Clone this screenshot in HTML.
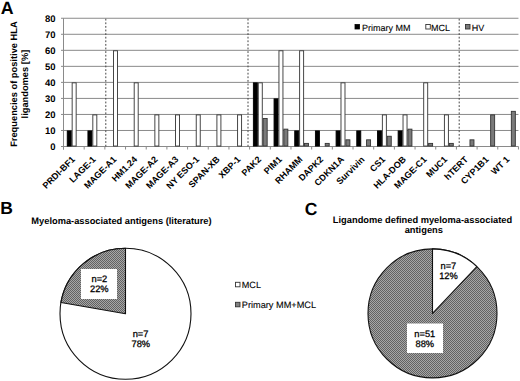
<!DOCTYPE html><html><head><meta charset="utf-8"><style>html,body{margin:0;padding:0;background:#fff;}svg{display:block;}text{font-family:"Liberation Sans",sans-serif;text-rendering:geometricPrecision;}text.r{stroke:#000;stroke-width:0.28px;}text.l{stroke:#000;stroke-width:0.1px;}</style></head><body>
<svg width="520" height="381" viewBox="0 0 520 381">
<defs><pattern id="h" width="2" height="2" patternUnits="userSpaceOnUse"><rect width="2" height="2" fill="#a6a6a6"/><rect width="1" height="1" fill="#626262"/><rect x="1" y="1" width="1" height="1" fill="#626262"/></pattern></defs>
<rect width="520" height="381" fill="#fff"/>
<text x="0.8" y="13.6" font-size="17.8" font-weight="bold">A</text>
<line x1="61.00" y1="146.50" x2="518.46" y2="146.50" stroke="#8a8a8a" stroke-width="1"/>
<line x1="61.00" y1="130.47" x2="518.46" y2="130.47" stroke="#8a8a8a" stroke-width="1"/>
<line x1="61.00" y1="114.44" x2="518.46" y2="114.44" stroke="#8a8a8a" stroke-width="1"/>
<line x1="61.00" y1="98.41" x2="518.46" y2="98.41" stroke="#8a8a8a" stroke-width="1"/>
<line x1="61.00" y1="82.38" x2="518.46" y2="82.38" stroke="#8a8a8a" stroke-width="1"/>
<line x1="61.00" y1="66.35" x2="518.46" y2="66.35" stroke="#8a8a8a" stroke-width="1"/>
<line x1="61.00" y1="50.32" x2="518.46" y2="50.32" stroke="#8a8a8a" stroke-width="1"/>
<line x1="61.00" y1="34.29" x2="518.46" y2="34.29" stroke="#8a8a8a" stroke-width="1"/>
<line x1="61.00" y1="18.26" x2="518.46" y2="18.26" stroke="#8a8a8a" stroke-width="1"/>
<line x1="63.50" y1="18.26" x2="63.50" y2="149.50" stroke="#8a8a8a" stroke-width="1"/>
<line x1="63.50" y1="146.50" x2="63.50" y2="149.50" stroke="#8a8a8a" stroke-width="1"/>
<line x1="84.18" y1="146.50" x2="84.18" y2="149.50" stroke="#8a8a8a" stroke-width="1"/>
<line x1="104.86" y1="146.50" x2="104.86" y2="149.50" stroke="#8a8a8a" stroke-width="1"/>
<line x1="125.54" y1="146.50" x2="125.54" y2="149.50" stroke="#8a8a8a" stroke-width="1"/>
<line x1="146.22" y1="146.50" x2="146.22" y2="149.50" stroke="#8a8a8a" stroke-width="1"/>
<line x1="166.90" y1="146.50" x2="166.90" y2="149.50" stroke="#8a8a8a" stroke-width="1"/>
<line x1="187.58" y1="146.50" x2="187.58" y2="149.50" stroke="#8a8a8a" stroke-width="1"/>
<line x1="208.26" y1="146.50" x2="208.26" y2="149.50" stroke="#8a8a8a" stroke-width="1"/>
<line x1="228.94" y1="146.50" x2="228.94" y2="149.50" stroke="#8a8a8a" stroke-width="1"/>
<line x1="249.62" y1="146.50" x2="249.62" y2="149.50" stroke="#8a8a8a" stroke-width="1"/>
<line x1="270.30" y1="146.50" x2="270.30" y2="149.50" stroke="#8a8a8a" stroke-width="1"/>
<line x1="290.98" y1="146.50" x2="290.98" y2="149.50" stroke="#8a8a8a" stroke-width="1"/>
<line x1="311.66" y1="146.50" x2="311.66" y2="149.50" stroke="#8a8a8a" stroke-width="1"/>
<line x1="332.34" y1="146.50" x2="332.34" y2="149.50" stroke="#8a8a8a" stroke-width="1"/>
<line x1="353.02" y1="146.50" x2="353.02" y2="149.50" stroke="#8a8a8a" stroke-width="1"/>
<line x1="373.70" y1="146.50" x2="373.70" y2="149.50" stroke="#8a8a8a" stroke-width="1"/>
<line x1="394.38" y1="146.50" x2="394.38" y2="149.50" stroke="#8a8a8a" stroke-width="1"/>
<line x1="415.06" y1="146.50" x2="415.06" y2="149.50" stroke="#8a8a8a" stroke-width="1"/>
<line x1="435.74" y1="146.50" x2="435.74" y2="149.50" stroke="#8a8a8a" stroke-width="1"/>
<line x1="456.42" y1="146.50" x2="456.42" y2="149.50" stroke="#8a8a8a" stroke-width="1"/>
<line x1="477.10" y1="146.50" x2="477.10" y2="149.50" stroke="#8a8a8a" stroke-width="1"/>
<line x1="497.78" y1="146.50" x2="497.78" y2="149.50" stroke="#8a8a8a" stroke-width="1"/>
<line x1="518.46" y1="146.50" x2="518.46" y2="149.50" stroke="#8a8a8a" stroke-width="1"/>
<text x="55.50" y="150.00" font-size="9.5" font-weight="bold" text-anchor="end">0</text>
<text x="55.50" y="133.97" font-size="9.5" font-weight="bold" text-anchor="end">10</text>
<text x="55.50" y="117.94" font-size="9.5" font-weight="bold" text-anchor="end">20</text>
<text x="55.50" y="101.91" font-size="9.5" font-weight="bold" text-anchor="end">30</text>
<text x="55.50" y="85.88" font-size="9.5" font-weight="bold" text-anchor="end">40</text>
<text x="55.50" y="69.85" font-size="9.5" font-weight="bold" text-anchor="end">50</text>
<text x="55.50" y="53.82" font-size="9.5" font-weight="bold" text-anchor="end">60</text>
<text x="55.50" y="37.79" font-size="9.5" font-weight="bold" text-anchor="end">70</text>
<text x="55.50" y="21.76" font-size="9.5" font-weight="bold" text-anchor="end">80</text>
<text transform="translate(17.1,84.1) rotate(-90)" font-size="9.3" font-weight="bold" text-anchor="middle">Frequencies of positive HLA</text>
<text transform="translate(27.8,84.1) rotate(-90)" font-size="9.3" font-weight="bold" text-anchor="middle">ligandomes [%]</text>
<line x1="105.80" y1="18.26" x2="105.80" y2="146.50" stroke="#444" stroke-width="1" stroke-dasharray="1.8,1.8" stroke-dashoffset="-0.5"/>
<line x1="248.00" y1="18.26" x2="248.00" y2="146.50" stroke="#444" stroke-width="1" stroke-dasharray="1.8,1.8" stroke-dashoffset="-0.5"/>
<line x1="459.20" y1="18.26" x2="459.20" y2="146.50" stroke="#444" stroke-width="1" stroke-dasharray="1.8,1.8" stroke-dashoffset="-0.5"/>
<rect x="67.25" y="130.92" width="4.00" height="15.13" fill="#000" stroke="#000" stroke-width="0.9"/>
<rect x="72.15" y="82.83" width="4.00" height="63.22" fill="#fff" stroke="#333" stroke-width="0.9"/>
<rect x="87.93" y="130.92" width="4.00" height="15.13" fill="#000" stroke="#000" stroke-width="0.9"/>
<rect x="92.83" y="114.89" width="4.00" height="31.16" fill="#fff" stroke="#333" stroke-width="0.9"/>
<rect x="113.51" y="50.77" width="4.00" height="95.28" fill="#fff" stroke="#333" stroke-width="0.9"/>
<rect x="134.19" y="82.83" width="4.00" height="63.22" fill="#fff" stroke="#333" stroke-width="0.9"/>
<rect x="154.87" y="114.89" width="4.00" height="31.16" fill="#fff" stroke="#333" stroke-width="0.9"/>
<rect x="175.55" y="114.89" width="4.00" height="31.16" fill="#fff" stroke="#333" stroke-width="0.9"/>
<rect x="196.23" y="114.89" width="4.00" height="31.16" fill="#fff" stroke="#333" stroke-width="0.9"/>
<rect x="216.91" y="114.89" width="4.00" height="31.16" fill="#fff" stroke="#333" stroke-width="0.9"/>
<rect x="237.59" y="114.89" width="4.00" height="31.16" fill="#fff" stroke="#333" stroke-width="0.9"/>
<rect x="253.37" y="82.83" width="4.00" height="63.22" fill="#000" stroke="#000" stroke-width="0.9"/>
<rect x="258.27" y="82.83" width="4.00" height="63.22" fill="#fff" stroke="#333" stroke-width="0.9"/>
<rect x="263.17" y="118.45" width="4.00" height="27.60" fill="#7a7a7a" stroke="#333" stroke-width="0.9"/>
<rect x="274.05" y="98.86" width="4.00" height="47.19" fill="#000" stroke="#000" stroke-width="0.9"/>
<rect x="278.95" y="50.77" width="4.00" height="95.28" fill="#fff" stroke="#333" stroke-width="0.9"/>
<rect x="283.85" y="129.14" width="4.00" height="16.91" fill="#7a7a7a" stroke="#333" stroke-width="0.9"/>
<rect x="294.73" y="130.92" width="4.00" height="15.13" fill="#000" stroke="#000" stroke-width="0.9"/>
<rect x="299.63" y="50.77" width="4.00" height="95.28" fill="#fff" stroke="#333" stroke-width="0.9"/>
<rect x="304.53" y="143.39" width="4.00" height="2.66" fill="#7a7a7a" stroke="#333" stroke-width="0.9"/>
<rect x="315.41" y="130.92" width="4.00" height="15.13" fill="#000" stroke="#000" stroke-width="0.9"/>
<rect x="325.21" y="143.39" width="4.00" height="2.66" fill="#7a7a7a" stroke="#333" stroke-width="0.9"/>
<rect x="336.09" y="130.92" width="4.00" height="15.13" fill="#000" stroke="#000" stroke-width="0.9"/>
<rect x="340.99" y="82.83" width="4.00" height="63.22" fill="#fff" stroke="#333" stroke-width="0.9"/>
<rect x="345.89" y="139.83" width="4.00" height="6.22" fill="#7a7a7a" stroke="#333" stroke-width="0.9"/>
<rect x="356.77" y="130.92" width="4.00" height="15.13" fill="#000" stroke="#000" stroke-width="0.9"/>
<rect x="366.57" y="139.83" width="4.00" height="6.22" fill="#7a7a7a" stroke="#333" stroke-width="0.9"/>
<rect x="377.45" y="130.92" width="4.00" height="15.13" fill="#000" stroke="#000" stroke-width="0.9"/>
<rect x="382.35" y="114.89" width="4.00" height="31.16" fill="#fff" stroke="#333" stroke-width="0.9"/>
<rect x="387.25" y="136.26" width="4.00" height="9.79" fill="#7a7a7a" stroke="#333" stroke-width="0.9"/>
<rect x="398.13" y="130.92" width="4.00" height="15.13" fill="#000" stroke="#000" stroke-width="0.9"/>
<rect x="403.03" y="114.89" width="4.00" height="31.16" fill="#fff" stroke="#333" stroke-width="0.9"/>
<rect x="407.93" y="129.14" width="4.00" height="16.91" fill="#7a7a7a" stroke="#333" stroke-width="0.9"/>
<rect x="423.71" y="82.83" width="4.00" height="63.22" fill="#fff" stroke="#333" stroke-width="0.9"/>
<rect x="428.61" y="143.39" width="4.00" height="2.66" fill="#7a7a7a" stroke="#333" stroke-width="0.9"/>
<rect x="444.39" y="114.89" width="4.00" height="31.16" fill="#fff" stroke="#333" stroke-width="0.9"/>
<rect x="449.29" y="143.39" width="4.00" height="2.66" fill="#7a7a7a" stroke="#333" stroke-width="0.9"/>
<rect x="469.97" y="139.83" width="4.00" height="6.22" fill="#7a7a7a" stroke="#333" stroke-width="0.9"/>
<rect x="490.65" y="114.89" width="4.00" height="31.16" fill="#7a7a7a" stroke="#333" stroke-width="0.9"/>
<rect x="511.33" y="111.33" width="4.00" height="34.72" fill="#7a7a7a" stroke="#333" stroke-width="0.9"/>
<text transform="translate(75.64,160.00) rotate(-45)" font-size="9.00" font-weight="bold" text-anchor="end">PRDI-BF1</text>
<text transform="translate(96.32,160.00) rotate(-45)" font-size="9.00" font-weight="bold" text-anchor="end">LAGE-1</text>
<text transform="translate(117.00,160.00) rotate(-45)" font-size="9.00" font-weight="bold" text-anchor="end">MAGE-A1</text>
<text transform="translate(137.68,160.00) rotate(-45)" font-size="9.00" font-weight="bold" text-anchor="end">HM1.24</text>
<text transform="translate(158.36,160.00) rotate(-45)" font-size="9.00" font-weight="bold" text-anchor="end">MAGE-A2</text>
<text transform="translate(179.04,160.00) rotate(-45)" font-size="9.00" font-weight="bold" text-anchor="end">MAGE-A3</text>
<text transform="translate(199.72,160.00) rotate(-45)" font-size="9.00" font-weight="bold" text-anchor="end">NY ESO-1</text>
<text transform="translate(220.40,160.00) rotate(-45)" font-size="9.00" font-weight="bold" text-anchor="end">SPAN-XB</text>
<text transform="translate(241.08,160.00) rotate(-45)" font-size="9.00" font-weight="bold" text-anchor="end">XBP-1</text>
<text transform="translate(261.76,160.00) rotate(-45)" font-size="9.00" font-weight="bold" text-anchor="end">PAK2</text>
<text transform="translate(282.44,160.00) rotate(-45)" font-size="9.00" font-weight="bold" text-anchor="end">PIM1</text>
<text transform="translate(303.12,160.00) rotate(-45)" font-size="9.00" font-weight="bold" text-anchor="end">RHAMM</text>
<text transform="translate(323.80,160.00) rotate(-45)" font-size="9.00" font-weight="bold" text-anchor="end">DAPK2</text>
<text transform="translate(344.48,160.00) rotate(-45)" font-size="9.00" font-weight="bold" text-anchor="end">CDKN1A</text>
<text transform="translate(365.16,160.00) rotate(-45)" font-size="9.00" font-weight="bold" text-anchor="end">Survivin</text>
<text transform="translate(385.84,160.00) rotate(-45)" font-size="9.00" font-weight="bold" text-anchor="end">CS1</text>
<text transform="translate(406.52,160.00) rotate(-45)" font-size="9.00" font-weight="bold" text-anchor="end">HLA-DOB</text>
<text transform="translate(427.20,160.00) rotate(-45)" font-size="9.00" font-weight="bold" text-anchor="end">MAGE-C1</text>
<text transform="translate(447.88,160.00) rotate(-45)" font-size="9.00" font-weight="bold" text-anchor="end">MUC1</text>
<text transform="translate(468.56,160.00) rotate(-45)" font-size="9.00" font-weight="bold" text-anchor="end">hTERT</text>
<text transform="translate(489.24,160.00) rotate(-45)" font-size="9.00" font-weight="bold" text-anchor="end">CYP1B1</text>
<text transform="translate(509.92,160.00) rotate(-45)" font-size="9.00" font-weight="bold" text-anchor="end">WT 1</text>
<rect x="355" y="24.5" width="4.5" height="4.5" fill="#000" stroke="#000" stroke-width="0.8"/>
<text class="l" x="362" y="31" font-size="9">Primary MM</text>
<rect x="425.8" y="24.5" width="4.5" height="4.5" fill="#fff" stroke="#333" stroke-width="0.9"/>
<text class="l" x="431" y="31" font-size="9">MCL</text>
<rect x="465.5" y="24.5" width="4.5" height="4.5" fill="#7a7a7a" stroke="#333" stroke-width="0.9"/>
<text class="l" x="471.8" y="31" font-size="9">HV</text>
<text x="0.3" y="214.3" font-size="17.5" font-weight="bold">B</text>
<text x="31.3" y="223.8" font-size="9.3" font-weight="bold">Myeloma-associated antigens (literature)</text>
<circle cx="125.50" cy="313.80" r="65.50" fill="#fff" stroke="#111" stroke-width="1.1"/>
<path d="M125.50,313.80 L125.50,248.30 A65.50,65.50 0 0,0 61.00,302.43 Z" fill="url(#h)" stroke="#111" stroke-width="1.1" stroke-linejoin="round"/>
<rect x="81" y="269" width="36" height="30" fill="#fff"/>
<text class="r" x="99.4" y="282.2" font-size="9.3" text-anchor="middle">n=2</text>
<text class="r" x="99.3" y="292.2" font-size="9.3" text-anchor="middle">22%</text>
<text class="r" x="140.6" y="336.9" font-size="9.3" text-anchor="middle">n=7</text>
<text class="r" x="140.8" y="347.1" font-size="9.3" text-anchor="middle">78%</text>
<rect x="235.5" y="282.3" width="4.5" height="4.5" fill="#fff" stroke="#333" stroke-width="0.9"/>
<text class="l" x="241.8" y="288.1" font-size="9.1">MCL</text>
<rect x="235.5" y="302.3" width="4.5" height="4.5" fill="#808080" stroke="#333" stroke-width="0.9"/>
<text class="l" x="241.8" y="308.2" font-size="9.2">Primary MM+MCL</text>
<text x="304.7" y="215.1" font-size="17.5" font-weight="bold">C</text>
<text x="422.5" y="222.7" font-size="9.3" font-weight="bold" text-anchor="middle">Ligandome defined myeloma-associated</text>
<text x="423.8" y="233" font-size="9.3" font-weight="bold" text-anchor="middle">antigens</text>
<circle cx="432.50" cy="313.40" r="64.50" fill="url(#h)" stroke="#111" stroke-width="1.1"/>
<path d="M432.50,313.40 L432.50,248.90 A64.50,64.50 0 0,1 476.86,266.57 Z" fill="#fff" stroke="#111" stroke-width="1.1" stroke-linejoin="round"/>
<text class="r" x="448.4" y="269" font-size="9.3" text-anchor="middle">n=7</text>
<text class="r" x="448.5" y="279" font-size="9.3" text-anchor="middle">12%</text>
<rect x="407" y="323.5" width="36" height="29.5" fill="#fff"/>
<text class="r" x="424.8" y="336.6" font-size="9.3" text-anchor="middle">n=51</text>
<text class="r" x="424.8" y="346.6" font-size="9.3" text-anchor="middle">88%</text>
</svg></body></html>
